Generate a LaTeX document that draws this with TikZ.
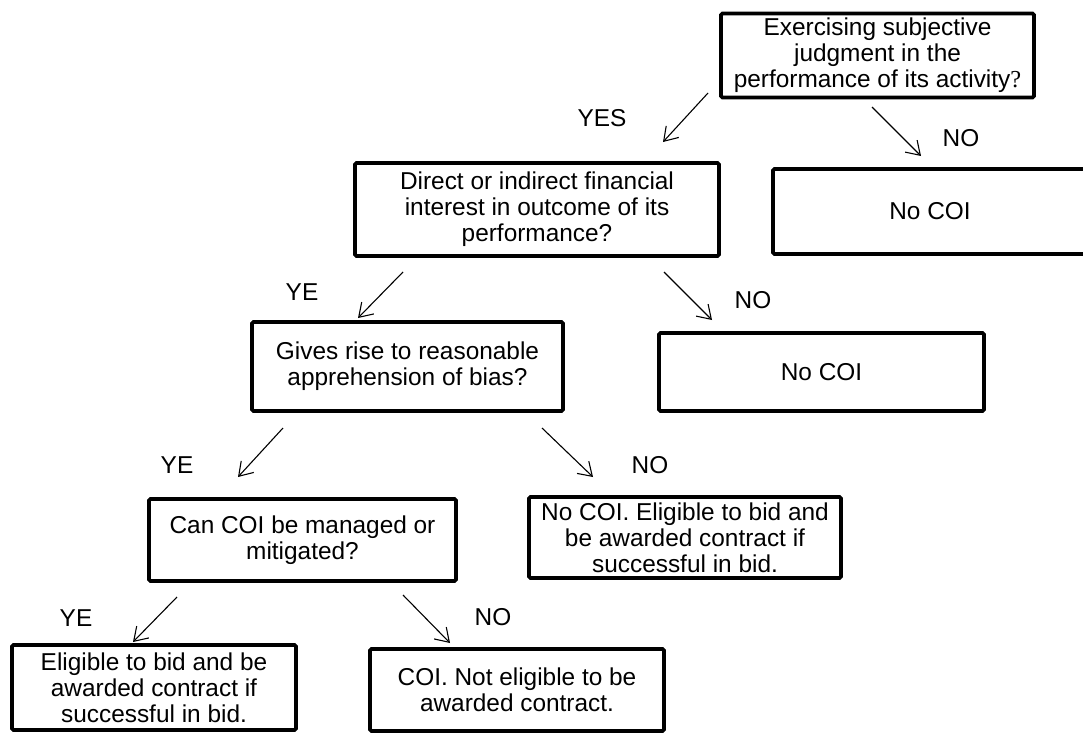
\documentclass[tikz,border=0pt]{standalone}
\usepackage{fontspec}
\setmainfont{Liberation Sans}
\newfontfamily\serifq{Liberation Serif}
\usetikzlibrary{arrows.meta}
\begin{document}
\begin{tikzpicture}[x=1pt,y=-1pt,
  box/.style={draw=black, line width=3.6pt, rounded corners=1.5pt, align=center,
    inner sep=0pt, fill=white, font=\fontsize{24.4}{26}\selectfont},
  arr/.style={draw=black, line width=1.1pt,
    -{Straight Barb[length=13pt,width=17pt,line width=1.1pt]}},
  lbl/.style={font=\fontsize{24.4}{26}\selectfont, inner sep=0pt}]
\useasboundingbox (0,0) rectangle (1083,736);

% boxes
\node[box, minimum width=313pt, minimum height=84pt] (q1) at (877.5,55.5)
  {Exercising subjective\\judgment in the\\performance of its activity{\serifq ?}};
\node[box, minimum width=364pt, minimum height=93pt] (q2) at (537,209.5)
  {Direct or indirect financial\\interest in outcome of its\\performance?};
\node[box, minimum width=314pt, minimum height=85pt] (n1) at (930,211.5)
  {No COI};
\node[box, minimum width=311pt, minimum height=89pt] (q3) at (407.5,366.5)
  {Gives rise to reasonable\\apprehension of bias?};
\node[box, minimum width=325pt, minimum height=78pt] (n2) at (821.5,372)
  {No COI};
\node[box, minimum width=307pt, minimum height=82pt] (q4) at (302.5,540)
  {Can COI be managed or\\mitigated?};
\node[box, minimum width=312pt, minimum height=81pt] (n3) at (685,537.5)
  {No COI. Eligible to bid and\\be awarded contract if\\successful in bid.};
\node[box, minimum width=284pt, minimum height=85pt] (e1) at (154,687.5)
  {Eligible to bid and be\\awarded contract if\\successful in bid.};
\node[box, minimum width=294pt, minimum height=82pt] (c1) at (517,690)
  {COI. Not eligible to be\\awarded contract.};

% arrow end points
\coordinate (a1s) at (708,93);  \coordinate (a1e) at (663,142);
\coordinate (a2s) at (872,107); \coordinate (a2e) at (921,156);
\coordinate (a3s) at (403,272); \coordinate (a3e) at (358,318);
\coordinate (a4s) at (664,272); \coordinate (a4e) at (712,320);
\coordinate (a5s) at (283,428); \coordinate (a5e) at (238,477);
\coordinate (a6s) at (542,428); \coordinate (a6e) at (593,477);
\coordinate (a7s) at (177,597); \coordinate (a7e) at (133,642);
\coordinate (a8s) at (403,595); \coordinate (a8e) at (450,643);

\draw[arr] (a1s) -- (a1e);
\draw[arr] (a2s) -- (a2e);
\draw[arr] (a3s) -- (a3e);
\draw[arr] (a4s) -- (a4e);
\draw[arr] (a5s) -- (a5e);
\draw[arr] (a6s) -- (a6e);
\draw[arr] (a7s) -- (a7e);
\draw[arr] (a8s) -- (a8e);

% labels
\node[lbl] (l1) at (602,118) {YES};
\node[lbl] (l2) at (961,138) {NO};
\node[lbl] (l3) at (302,292) {YE};
\node[lbl] (l4) at (753,300) {NO};
\node[lbl] (l5) at (177,465) {YE};
\node[lbl] (l6) at (650,465) {NO};
\node[lbl] (l7) at (76,618) {YE};
\node[lbl] (l8) at (493,617) {NO};
\end{tikzpicture}
\end{document}
